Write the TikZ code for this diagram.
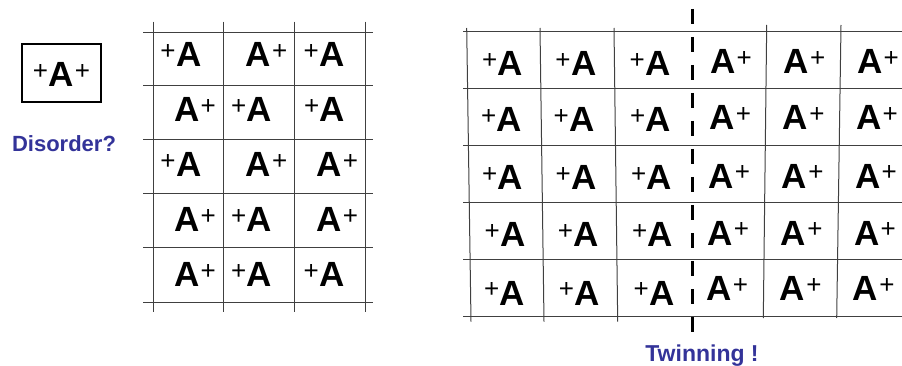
\documentclass[tikz,border=0pt]{standalone}
\usepackage{fontspec}
\setmainfont{Liberation Sans}
\usepackage{tikz}

\definecolor{labelblue}{RGB}{51,51,153}
\newcommand{\plsign}{{\fontsize{26}{26}\selectfont\mdseries\raisebox{7.5pt}{+}}}
\newcommand{\plusA}{\plsign\kern0.5pt A}
\newcommand{\Aplus}{A\kern1pt\plsign}

\tikzset{
  ion/.style={font=\fontsize{35}{35}\selectfont\bfseries, inner sep=0pt, anchor=base},
  gridline/.style={line width=1pt, black!75},
  remark/.style={font=\fontsize{22}{22}\selectfont\bfseries, text=labelblue, inner sep=0pt, anchor=base}
}

\begin{document}
\begin{tikzpicture}[x=1pt, y=-1pt]
    \useasboundingbox (0,0) rectangle (902,366);

    % Single ion with both orientations
    \draw[line width=1.2pt] (22,44) rectangle (101,102);
    \node[ion] (single) at (61.5,86.7) {\plsign\kern0.5pt A\kern1pt\plsign};
    \node[remark] (disorder) at (64,151.7) {Disorder?};

    % Disordered lattice: grid lines
    \foreach \x in {153, 223, 294, 365}
        \draw[gridline] (\x,21.7) -- (\x,311.7);
    \foreach \y in {32.3, 86, 140, 194, 247.7, 302.7}
        \draw[gridline] (143,\y) -- (373,\y);

    % Disordered lattice: ions, row by row
    \foreach \x/\y/\t [count=\i] in {
        180.8/66.7/\plusA, 266.7/66.7/\Aplus, 324/66.7/\plusA,
        195/121.7/\Aplus, 251.7/121.7/\plusA, 324.5/121.7/\plusA,
        180.8/176.7/\plusA, 266.7/176.7/\Aplus, 337.3/176.7/\Aplus,
        195/231.7/\Aplus, 251.7/231.7/\plusA, 337.3/231.7/\Aplus,
        195/286.7/\Aplus, 251.7/286.7/\plusA, 324/286.7/\plusA}
        \node[ion] (dis\i) at (\x,\y) {\t};

    % Twinned lattice: grid lines (slightly skewed)
    \foreach \xa/\xb in {466.7/471, 540/544, 614/617.7}
        \draw[gridline] (\xa,28) -- (\xb,321.7);
    \foreach \xa/\xb in {766.7/763.3, 841/836.7}
        \draw[gridline] (\xa,25) -- (\xb,318);
    \foreach \y in {31.7, 88.3, 145.7, 202.3, 259.3, 316.7}
        \draw[gridline] (463,\y) -- (902,\y);

    % Twin boundary
    \draw[line width=3.5pt, dash pattern=on 15pt off 13pt] (692.3,9) -- (692.3,332);

    % Twinned lattice: left domain
    \foreach \x/\y [count=\i] in {
        502.5/76, 575.8/76, 650/76,
        501.7/131.7, 574/131.7, 650.7/131.7,
        502.7/190, 576/190, 651.7/190,
        505/246.7, 578.3/246.7, 652.7/246.7,
        504.5/305, 579.3/305, 654/305}
        \node[ion] (tl\i) at (\x,\y) {\plusA};

    % Twinned lattice: right domain
    \foreach \x/\y [count=\i] in {
        731/74, 804.5/74, 878/74,
        730.3/130, 803.7/130, 877/130,
        729.3/188.3, 802.7/188.3, 876/188.3,
        728.3/245, 801.7/245, 875/245,
        727.3/300.5, 800.7/300.5, 873.7/300.5}
        \node[ion] (tr\i) at (\x,\y) {\Aplus};

    \node[remark, font=\fontsize{23}{23}\selectfont\bfseries] (twinning) at (702,361.7) {Twinning !};
\end{tikzpicture}
\end{document}
